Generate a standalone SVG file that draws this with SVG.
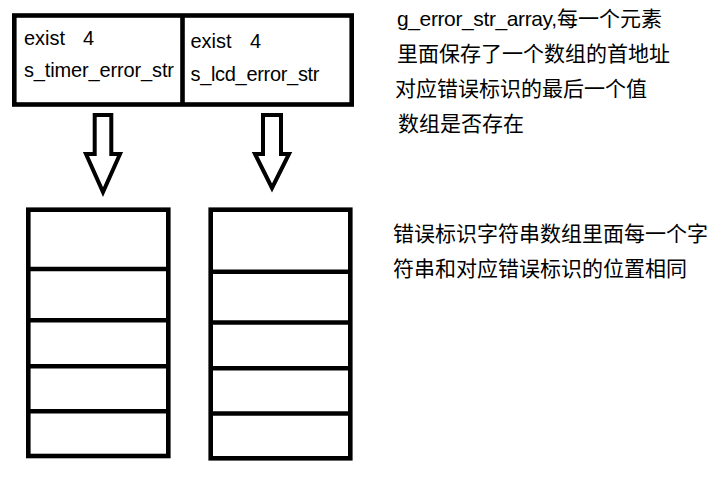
<svg xmlns="http://www.w3.org/2000/svg" width="723" height="491" viewBox="0 0 723 491">
<style>
.box{fill:#fff;stroke:#000;stroke-width:4.6}
.ln{stroke:#000;stroke-width:4.6;fill:none}
.arr{fill:#fff;stroke:#000;stroke-width:4;stroke-linejoin:miter}
.t{font-family:"Liberation Sans","Noto Sans CJK SC",sans-serif;font-size:20px;fill:#000}
.c{font-family:"Noto Sans CJK SC","Liberation Sans",sans-serif;font-size:21px;fill:#000}
</style>
<rect width="723" height="491" fill="#fff"/>
<g id="struct-array">
  <rect class="box" x="14.3" y="15.5" width="337.4" height="89"/>
  <line class="ln" x1="182.5" y1="15.5" x2="182.5" y2="104.5"/>
  <g id="elem-timer">
    <text class="t" x="24" y="45">exist<tspan x="83">4</tspan></text>
    <text class="t" x="24" y="77" textLength="150">s_timer_error_str</text>
  </g>
  <g id="elem-lcd">
    <text class="t" x="190.5" y="48">exist<tspan x="250">4</tspan></text>
    <text class="t" x="190.5" y="81" textLength="129">s_lcd_error_str</text>
  </g>
</g>
<g id="connectors">
  <polygon class="arr" points="94.7,115 111.3,115 111.3,154 120,154 103,192 86,154 94.7,154"/>
  <polygon class="arr" points="263,115 281,115 281,154 289,154 272,188 255,154 263,154"/>
</g>
<g id="timer-strings">
  <rect class="box" x="28.3" y="209.7" width="140" height="246.3"/>
  <line class="ln" x1="28.3" y1="269" x2="168.3" y2="269"/>
  <line class="ln" x1="28.3" y1="320.3" x2="168.3" y2="320.3"/>
  <line class="ln" x1="28.3" y1="366.3" x2="168.3" y2="366.3"/>
  <line class="ln" x1="28.3" y1="411.3" x2="168.3" y2="411.3"/>
</g>
<g id="lcd-strings">
  <rect class="box" x="210.7" y="209.7" width="139.6" height="248.6"/>
  <line class="ln" x1="210.7" y1="271.7" x2="350.3" y2="271.7"/>
  <line class="ln" x1="210.7" y1="322.5" x2="350.3" y2="322.5"/>
  <line class="ln" x1="210.7" y1="368.3" x2="350.3" y2="368.3"/>
  <line class="ln" x1="210.7" y1="413.5" x2="350.3" y2="413.5"/>
</g>
<g id="note-top">
  <text class="c" x="397" y="26"><tspan font-family="Liberation Sans, sans-serif" textLength="160">g_error_str_array,</tspan><tspan x="557">每一个元素</tspan></text>
  <text class="c" x="397" y="61">里面保存了一个数组的首地址</text>
  <text class="c" x="395" y="96">对应错误标识的最后一个值</text>
  <text class="c" x="398" y="131">数组是否存在</text>
</g>
<g id="note-bottom">
  <text class="c" x="393" y="241">错误标识字符串数组里面每一个字</text>
  <text class="c" x="393" y="276">符串和对应错误标识的位置相同</text>
</g>
</svg>
